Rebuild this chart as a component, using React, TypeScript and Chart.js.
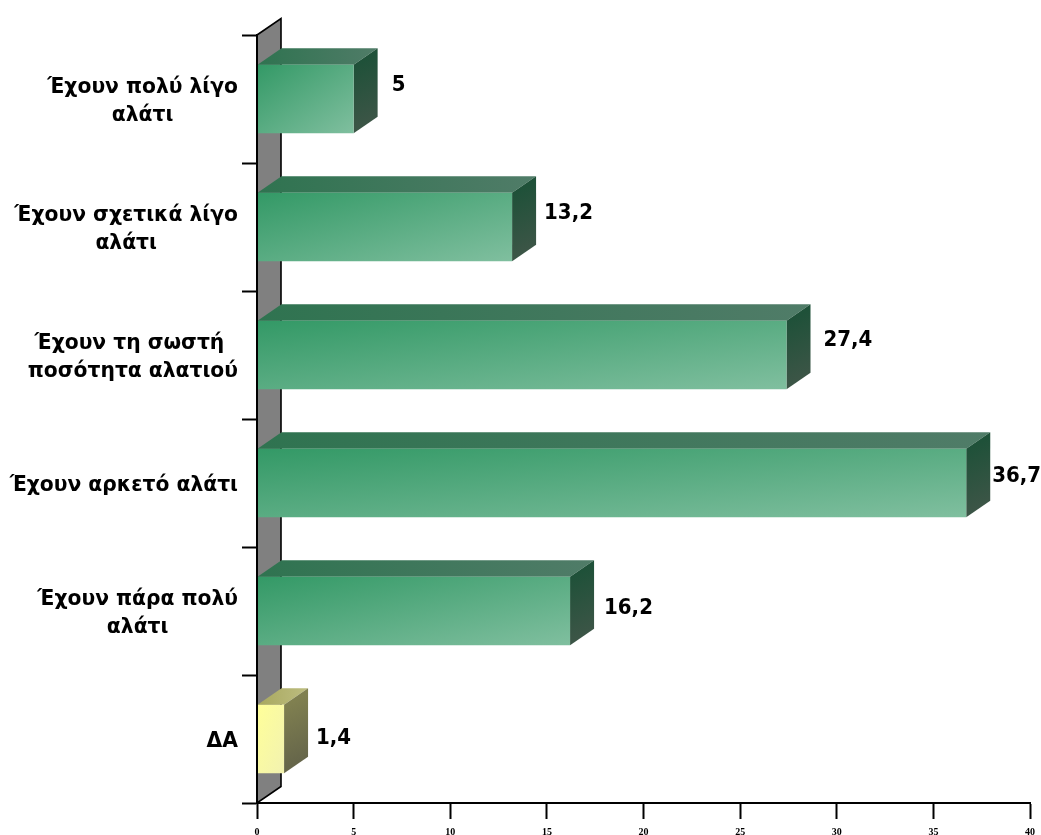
import React, { useEffect, useRef } from "react";
import { Chart, registerables } from "chart.js";

Chart.register(...registerables);

const categories: string[][] = [
  ["Έχουν πολύ λίγο", "αλάτι"],
  ["Έχουν σχετικά λίγο", "αλάτι"],
  ["Έχουν τη σωστή ", "ποσότητα αλατιού"],
  ["Έχουν αρκετό αλάτι"],
  ["Έχουν πάρα πολύ", "αλάτι"],
  ["ΔΑ"],
];
const values = [5, 13.2, 27.4, 36.7, 16.2, 1.4];
const valueLabels = ["5", "13,2", "27,4", "36,7", "16,2", "1,4"];
const kinds = ["g", "g", "g", "g", "g", "y"];
const labelNudgeX = [14, 8, 13, 2, 10, 8];
const labelNudgeY = [-14, -14, -15, -7, -3, -1];

const DEPTH_X = 24;
const DEPTH_Y = -16.5;
const BAR_FRACTION = 0.535;
const VALUE_FONT = 'bold 22px "DejaVu Sans Condensed", "DejaVu Sans"';
const CATEGORY_FONT = 'bold 20.3px "DejaVu Sans"';

const palette: Record<string, { front: [string, string]; top: [string, string]; side: [string, string] }> = {
  g: { front: ["#339966", "#80bf9f"], top: ["#2f7350", "#507c68"], side: ["#1f5139", "#3b5546"] },
  y: { front: ["#ffff99", "#f2f2b0"], top: ["#a8a85e", "#bdbd80"], side: ["#808050", "#66664a"] },
};

function diagonal(ctx: CanvasRenderingContext2D, x: number, y: number, w: number, h: number, c: [string, string]) {
  const L = w * w + h * h || 1;
  const k = (2 * w * h) / L;
  const g = ctx.createLinearGradient(x, y, x + h * k, y + w * k);
  g.addColorStop(0, c[0]);
  g.addColorStop(1, c[1]);
  return g;
}

const box3d = {
  id: "box3d",
  beforeDraw(chart: any) {
    const { ctx, chartArea: a } = chart;
    ctx.save();
    ctx.beginPath();
    ctx.moveTo(a.left, a.top);
    ctx.lineTo(a.left + DEPTH_X, a.top + DEPTH_Y);
    ctx.lineTo(a.left + DEPTH_X, a.bottom + DEPTH_Y);
    ctx.lineTo(a.left, a.bottom);
    ctx.closePath();
    ctx.fillStyle = "#808080";
    ctx.fill();
    ctx.strokeStyle = "#000";
    ctx.lineWidth = 1.6;
    ctx.stroke();
    ctx.restore();
  },
  beforeDatasetsDraw(chart: any) {
    const { ctx } = chart;
    const bars = chart.getDatasetMeta(0).data;
    ctx.save();
    bars.forEach((b: any, i: number) => {
      const p = palette[kinds[i]];
      const l = b.base;
      const r = b.x;
      const t = b.y - b.height / 2;
      const bt = b.y + b.height / 2;
      const tg = ctx.createLinearGradient(l, 0, r + DEPTH_X, 0);
      tg.addColorStop(0, p.top[0]);
      tg.addColorStop(1, p.top[1]);
      ctx.fillStyle = tg;
      ctx.beginPath();
      ctx.moveTo(l, t);
      ctx.lineTo(l + DEPTH_X, t + DEPTH_Y);
      ctx.lineTo(r + DEPTH_X, t + DEPTH_Y);
      ctx.lineTo(r, t);
      ctx.closePath();
      ctx.fill();
      const sg = ctx.createLinearGradient(r, t, r + DEPTH_X, bt + DEPTH_Y);
      sg.addColorStop(0, p.side[0]);
      sg.addColorStop(1, p.side[1]);
      ctx.fillStyle = sg;
      ctx.beginPath();
      ctx.moveTo(r, t);
      ctx.lineTo(r + DEPTH_X, t + DEPTH_Y);
      ctx.lineTo(r + DEPTH_X, bt + DEPTH_Y);
      ctx.lineTo(r, bt);
      ctx.closePath();
      ctx.fill();
    });
    ctx.restore();
  },
  afterDatasetsDraw(chart: any) {
    const { ctx } = chart;
    const bars = chart.getDatasetMeta(0).data;
    const yScale = chart.scales.y;
    ctx.save();
    ctx.fillStyle = "#000";
    ctx.font = VALUE_FONT;
    ctx.textBaseline = "middle";
    ctx.textAlign = "left";
    bars.forEach((b: any, i: number) => {
      ctx.fillText(valueLabels[i], b.x + DEPTH_X + labelNudgeX[i], b.y + labelNudgeY[i]);
    });
    ctx.font = CATEGORY_FONT;
    ctx.textAlign = "center";
    const right = yScale.right - 19;
    categories.forEach((lines, i) => {
      const w = Math.max(...lines.map((s) => ctx.measureText(s).width));
      const cx = right - w / 2;
      const yc = yScale.getPixelForValue(i);
      lines.forEach((s, j) => {
        ctx.fillText(s, cx, yc + (j - (lines.length - 1) / 2) * 28 + 3);
      });
    });
    ctx.restore();
  },
};

export default function App() {
  const ref = useRef<HTMLCanvasElement>(null);
  useEffect(() => {
    document.body.style.margin = "0";
    const chart = new Chart(ref.current as HTMLCanvasElement, {
      type: "bar",
      data: {
        labels: categories as any,
        datasets: [
          {
            data: values,
            barPercentage: BAR_FRACTION,
            categoryPercentage: 1,
            borderWidth: 0,
            backgroundColor: (c: any) => {
              const { chart: ch, dataIndex: i } = c;
              const { x, y } = ch.scales;
              if (!ch.chartArea || !x || !y || i === undefined) return "#339966";
              const x0 = x.getPixelForValue(0);
              const x1 = x.getPixelForValue(values[i]);
              const yc = y.getPixelForValue(i);
              const h = (y.height / categories.length) * BAR_FRACTION;
              return diagonal(ch.ctx, x0, yc - h / 2, x1 - x0, h, palette[kinds[i]].front);
            },
          },
        ],
      },
      options: {
        indexAxis: "y",
        responsive: false,
        animation: false,
        layout: { padding: { top: 35, right: 11, left: 0, bottom: 0 } },
        plugins: { legend: { display: false }, title: { display: false }, tooltip: { enabled: false } },
        scales: {
          x: {
            min: 0,
            max: 40,
            afterFit: (s: any) => {
              s.height = 32;
              s.paddingLeft = 0;
              s.paddingRight = 0;
            },
            grid: { drawOnChartArea: false, tickLength: 16, tickWidth: 2, tickColor: "#000" },
            border: { color: "#000", width: 2, z: 1 },
            ticks: {
              stepSize: 5,
              maxRotation: 0,
              padding: 7,
              color: "#000",
              font: { family: '"Liberation Serif"', weight: "bold", size: 10 },
            },
          },
          y: {
            afterFit: (s: any) => {
              s.width = 257;
            },
            grid: { drawOnChartArea: false, tickLength: 15, tickWidth: 2, tickColor: "#000" },
            border: { color: "#000", width: 2, z: 1 },
            ticks: { display: false },
          },
        },
      },
      plugins: [box3d],
    } as any);
    return () => chart.destroy();
  }, []);
  return <canvas ref={ref} width={1041} height={835} style={{ display: "block", width: 1041, height: 835 }} />;
}
